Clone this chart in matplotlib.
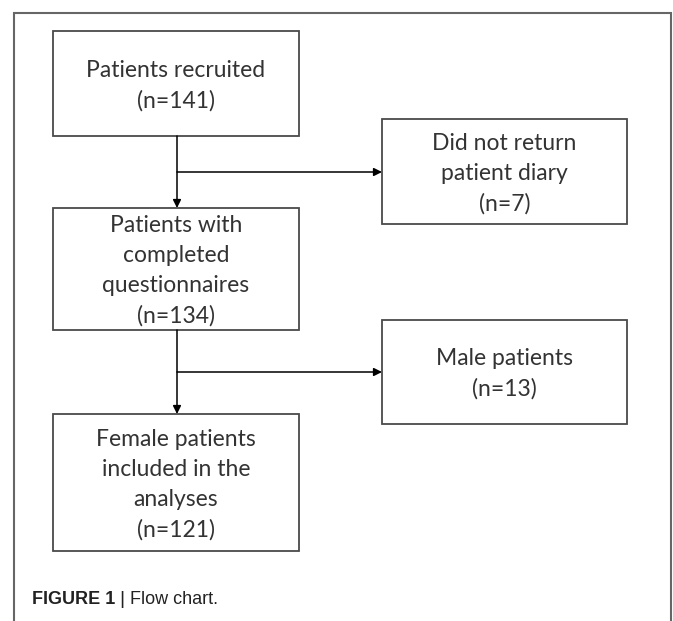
import matplotlib.pyplot as plt
from matplotlib.patches import Rectangle

# =========================
# FLOW CHART CONTENT
# =========================
labels = [
    "Patients recruited",
    "Did not return\npatient diary",
    "Patients with\ncompleted\nquestionnaires",
    "Male patients",
    "Female patients\nincluded in the\nanalyses",
]
counts = [141, 7, 134, 13, 121]

# box geometry in pixels (x0, y0, x1, y1), y downwards
boxes = [
    (53, 31, 299, 136),
    (382, 119, 627, 224),
    (53, 208, 299, 330),
    (382, 320, 627, 424),
    (53, 414, 299, 551),
]

W, H = 673, 621
LINE = "#4a4a4a"
TEXT = "#333333"

fig = plt.figure(figsize=(W / 100, H / 100), dpi=100)
ax = fig.add_axes([0, 0, 1, 1])
ax.set_xlim(0, W)
ax.set_ylim(H, 0)
ax.axis("off")

# outer frame (open at the bottom)
ax.plot([14, 14, 671, 671], [H, 13, 13, H], color="#666666", lw=1.5,
        solid_joinstyle="miter")

for (x0, y0, x1, y1), lab, n in zip(boxes, labels, counts):
    ax.add_patch(Rectangle((x0, y0), x1 - x0, y1 - y0, fill=False,
                           edgecolor=LINE, lw=1.3))
    ax.text((x0 + x1) / 2, (y0 + y1) / 2 + 2, f"{lab}\n(n={n})", ha="center",
            va="center", fontsize=16.5, family="Lato", color=TEXT,
            linespacing=1.52)

# connectors
cx = 177
arrow = dict(arrowstyle="-|>", color="black", lw=1.1, mutation_scale=12,
             shrinkA=0, shrinkB=0)
for top, bot, branch_y, side_x in [(136, 208, 172, 382), (330, 414, 372, 382)]:
    ax.annotate("", xy=(cx, bot), xytext=(cx, top), arrowprops=arrow)
    ax.annotate("", xy=(side_x, branch_y), xytext=(cx, branch_y), arrowprops=arrow)

# caption
ax.text(32, 600, "FIGURE 1", fontsize=13, fontweight="bold", color="#222222",
        family="Liberation Sans", va="center", ha="left")
ax.text(119, 600, "|", fontsize=14, color="#222222",
        family="Liberation Sans", va="center", ha="left")
ax.text(130, 600, "Flow chart.", fontsize=13, color="#222222",
        family="Liberation Sans", va="center", ha="left")

fig.savefig("out.png", dpi=100)
